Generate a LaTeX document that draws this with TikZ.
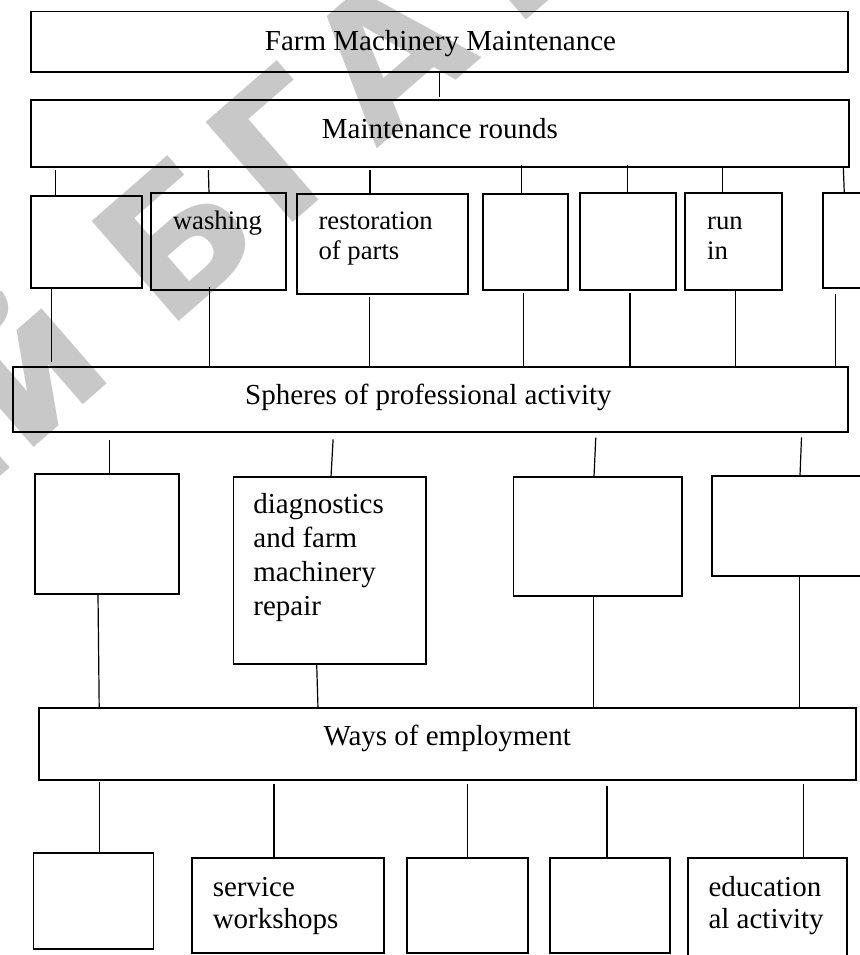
\documentclass[tikz,border=0pt]{standalone}
\usepackage{fontspec}
\setmainfont{Liberation Serif}
\newfontfamily\wmfont{DejaVu Sans}
\usetikzlibrary{fit}
\definecolor{wmgray}{RGB}{200,200,200}
\begin{document}
\begin{tikzpicture}[x=1pt,y=-1pt,
  box/.style={draw, line width=1.8pt, inner sep=0pt, outer sep=0pt},
  conn/.style={draw, line width=1.2pt},
  big/.style={inner sep=0pt, font=\fontsize{29}{33}\selectfont},
  small/.style={inner sep=0pt, font=\fontsize{26.7}{30}\selectfont},
  wm/.style={inner sep=0pt, text=wmgray, rotate=41, font=\wmfont\bfseries\fontsize{182}{190}\selectfont}]
\fill[white] (0,0) rectangle (859,955);
\useasboundingbox (0,0) rectangle (859,955);

% watermark
\node[wm, anchor=base east] (wm0) at (118.4,374.3) {Репозиторий};
\node[wm, anchor=base west] (wm1) at (166,333) {Б};
\node[wm, anchor=base west] (wm2) at (280,233.9) {Г};
\node[wm, anchor=base west] (wm3) at (376.6,150) {А};
\node[wm, anchor=base west] (wm4) at (492.2,49.6) {Т};
\node[wm, anchor=base west] (wm5) at (594.8,-39.6) {У};

% boxes
\node[box, fit={(31,11.5) (848,71.7)}] (top) {};
\node[box, fit={(31,100) (849.3,167)}] (mr) {};
\node[box, fit={(31,195.7) (141.7,287.7)}] (r1a) {};
\node[box, fit={(151,193.3) (285.7,290)}] (r1b) {};
\node[box, fit={(297.3,193.7) (467.7,294)}] (r1c) {};
\node[box, fit={(483.3,193.7) (568,290)}] (r1d) {};
\node[box, fit={(580,193.3) (676,290)}] (r1e) {};
\node[box, fit={(685,193.3) (781.7,290)}] (r1f) {};
\node[box, fit={(823.3,193.3) (875,287.7)}] (r1g) {};
\node[box, fit={(13.3,366.7) (847.7,432.3)}] (sph) {};
\node[box, fit={(35.3,473.7) (179.3,594)}] (r2a) {};
\node[box, fit={(233.4,476.7) (426,664.3)}] (r2b) {};
\node[box, fit={(513.4,476.7) (681.6,596)}] (r2c) {};
\node[box, fit={(712,475.7) (875,575.7)}] (r2d) {};
\node[box, fit={(39,708.3) (856,780)}] (ways) {};
\node[box, fit={(33.4,853.3) (153.4,949.3)}] (r3a) {};
\node[box, fit={(191.8,857.7) (383.6,953.3)}] (r3b) {};
\node[box, fit={(407,857.7) (527.7,953.3)}] (r3c) {};
\node[box, fit={(549.6,857.7) (669.6,953.3)}] (r3d) {};
\node[box, fit={(687.7,857.7) (846.7,965)}] (r3e) {};

% texts
\node[big, anchor=base] (ttop) at (440.5,50.7) {Farm Machinery Maintenance};
\node[big, anchor=base west] (tmr) at (321.7,138.3) {Maintenance rounds};
\node[small, anchor=base west] (twash) at (172.7,229.3) {washing};
\node[small, anchor=base west] (trest1) at (318.3,229.3) {restoration};
\node[small, anchor=base west] (trest2) at (318.3,259.3) {of parts};
\node[small, anchor=base west] (trun1) at (707,229.3) {run};
\node[small, anchor=base west] (trun2) at (707,259.3) {in};
\node[big, anchor=base west] (tsph) at (245,404) {Spheres of professional activity};
\node[big, anchor=base west] (tdia1) at (253.2,513.3) {diagnostics};
\node[big, anchor=base west] (tdia2) at (253.2,547.5) {and farm};
\node[big, anchor=base west] (tdia3) at (253.2,581.5) {machinery};
\node[big, anchor=base west] (tdia4) at (253.2,615) {repair};
\node[big, anchor=base west] (tways) at (323.3,745) {Ways of employment};
\node[big, anchor=base west] (tserv1) at (212.6,896) {service};
\node[big, anchor=base west] (tserv2) at (212.6,928) {workshops};
\node[big, anchor=base west] (tedu1) at (708.3,896) {education};
\node[big, anchor=base west] (tedu2) at (708.3,928) {al activity};

% connectors
\draw[conn, shorten >=3pt] (439.3,0 |- top.south) -- (439.3,0 |- mr.north);

\draw[conn, shorten <=3pt] (55.5,0 |- mr.south) -- (55.5,0 |- r1a.north);
\draw[conn, shorten <=3pt] (208.3,0 |- mr.south) -- (209,0 |- r1b.north);
\draw[conn, shorten <=3pt] (370,0 |- mr.south) -- (370,0 |- r1c.north);
\draw[conn, shorten <=-2pt] (521.7,0 |- mr.south) -- (521.7,0 |- r1d.north);
\draw[conn, shorten <=-2pt] (627.4,0 |- mr.south) -- (627.4,0 |- r1e.north);
\draw[conn, shorten <=1pt] (722.2,0 |- mr.south) -- (722.2,0 |- r1f.north);
\draw[conn] (843.3,0 |- mr.south) -- (844.3,0 |- r1g.north);

\draw[conn, shorten >=5pt] (51.3,0 |- r1a.south) -- (51.3,0 |- sph.north);
\draw[conn, shorten <=-3pt] (209.7,0 |- r1b.south) -- (209.7,0 |- sph.north);
\draw[conn, shorten <=3pt] (369.7,0 |- r1c.south) -- (369.7,0 |- sph.north);
\draw[conn, shorten <=3pt] (523.3,0 |- r1d.south) -- (523.3,0 |- sph.north);
\draw[conn, shorten <=3pt] (630,0 |- r1e.south) -- (630,0 |- sph.north);
\draw[conn, shorten <=1pt] (735.3,0 |- r1f.south) -- (735.3,0 |- sph.north);
\draw[conn, shorten <=6.5pt] (835.7,0 |- r1g.south) -- (835.7,0 |- sph.north);

\draw[conn, shorten <=7.5pt] (109.5,0 |- sph.south) -- (109.5,0 |- r2a.north);
\draw[conn, shorten <=7pt] (333.5,0 |- sph.south) -- (331,0 |- r2b.north);
\draw[conn, shorten <=5.4pt] (596,0 |- sph.south) -- (594,0 |- r2c.north);
\draw[conn, shorten <=5pt] (801.7,0 |- sph.south) -- (800,0 |- r2d.north);

\draw[conn] (98,0 |- r2a.south) -- (99.2,0 |- ways.north);
\draw[conn] (316.7,0 |- r2b.south) -- (318,0 |- ways.north);
\draw[conn] (593.4,0 |- r2c.south) -- (593.4,0 |- ways.north);
\draw[conn] (799.7,0 |- r2d.south) -- (799.7,0 |- ways.north);

\draw[conn, shorten <=2pt] (99.2,0 |- ways.south) -- (99.2,0 |- r3a.north);
\draw[conn, shorten <=4pt] (274,0 |- ways.south) -- (274,0 |- r3b.north);
\draw[conn, shorten <=4pt] (467.4,0 |- ways.south) -- (467.4,0 |- r3c.north);
\draw[conn, shorten <=6pt] (607,0 |- ways.south) -- (607,0 |- r3d.north);
\draw[conn, shorten <=4pt] (803.5,0 |- ways.south) -- (803.5,0 |- r3e.north);
\end{tikzpicture}
\end{document}
